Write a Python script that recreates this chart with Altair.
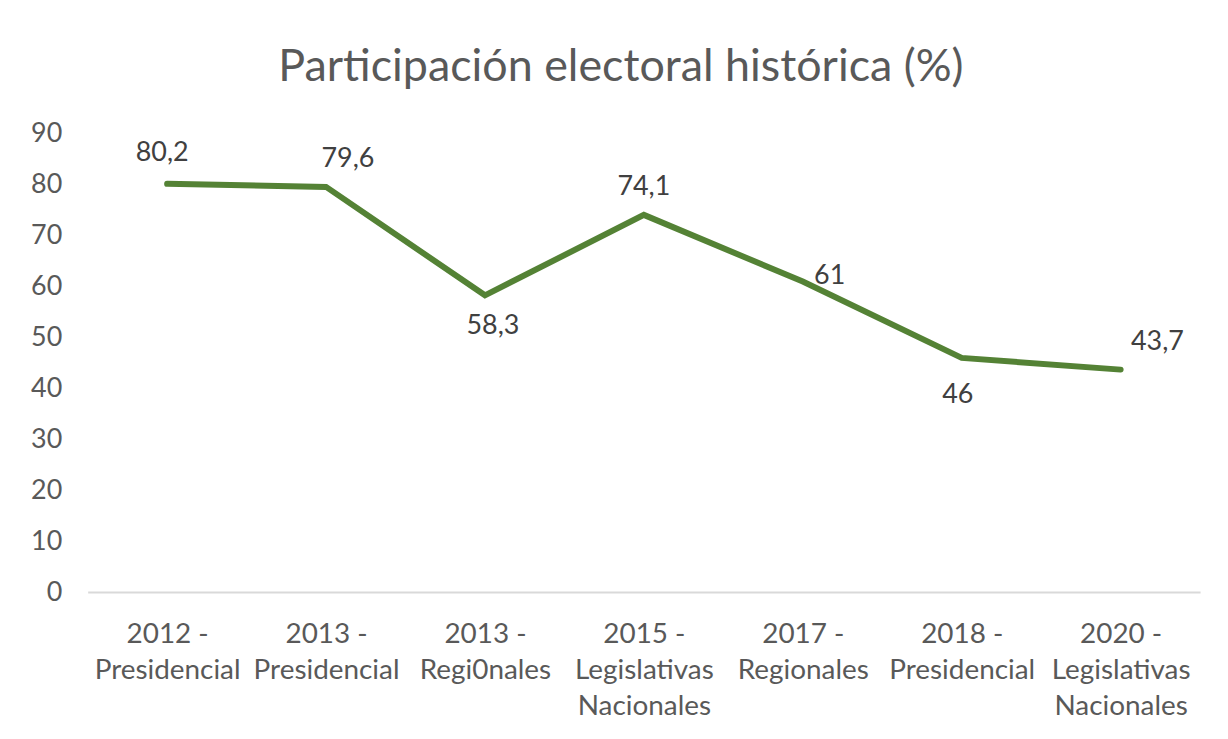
import altair as alt
import pandas as pd

categories = [
    "2012 - Presidencial",
    "2013 - Presidencial",
    "2013 - Regi0nales",
    "2015 - Legislativas Nacionales",
    "2017 - Regionales",
    "2018 - Presidencial",
    "2020 - Legislativas Nacionales",
]
values = [80.2, 79.6, 58.3, 74.1, 61, 46, 43.7]
y_ticks = [0, 10, 20, 30, 40, 50, 60, 70, 80, 90]

labels = [f"{v:g}".replace(".", ",") for v in values]
df = pd.DataFrame({"cat": categories, "val": values, "lab": labels})

# label offsets (dx, dy) per point, styling only
offsets = [(-5, -31), (22, -28), (8, 31), (0, -28), (27, -6), (-4, 37), (37, -28)]

FONT = "Lato"
TXT = "#595959"

x_enc = alt.X(
    "cat:N",
    sort=categories,
    scale=alt.Scale(type="point", padding=0.5),
    axis=alt.Axis(
        title=None,
        labelAngle=0,
        labelFont=FONT,
        labelFontSize=28,
        labelColor=TXT,
        labelPadding=29,
        labelLineHeight=36,
        labelLimit=400,
        labelBaseline="top",
        labelExpr="split(replace(replace(datum.label, ' - ', ' -|'), 'Legislativas ', 'Legislativas|'), '|')",
        ticks=False,
        domain=True,
        domainColor="#d9d9d9",
        domainWidth=2,
        grid=False,
    ),
)
y_enc = alt.Y(
    "val:Q",
    scale=alt.Scale(domain=[0, 90], nice=False, zero=True),
    axis=alt.Axis(
        title=None,
        values=y_ticks,
        labelFont=FONT,
        labelFontSize=27,
        labelColor=TXT,
        labelPadding=26,
        ticks=False,
        domain=False,
        grid=False,
    ),
)

base = alt.Chart(df)
line = base.mark_line(color="#548235", strokeWidth=6, strokeCap="round", strokeJoin="miter").encode(
    x=x_enc, y=y_enc
)

layers = [line]
for i, (dx, dy) in enumerate(offsets):
    layers.append(
        base.transform_filter(alt.datum.cat == categories[i])
        .mark_text(font=FONT, fontSize=27, color="#404040", dx=dx, dy=dy, baseline="middle", align="center")
        .encode(x=alt.X("cat:N", sort=categories), y="val:Q", text="lab:N")
    )

chart = (
    alt.layer(*layers)
    .properties(
        width=1117,
        height=460,
        title=alt.TitleParams(
            "Participación electoral histórica (%)",
            font=FONT,
            fontSize=45,
            fontWeight="normal",
            color=TXT,
            anchor="middle",
            dx=-23,
            offset=30,
        ),
        autosize=alt.AutoSizeParams(type="none"),
        padding={"left": 80, "top": 125, "right": 20, "bottom": 130},
        background="white",
    )
    .configure_view(stroke=None)
)

chart.save("out.html", embed_options={"renderer": "svg", "actions": False})
